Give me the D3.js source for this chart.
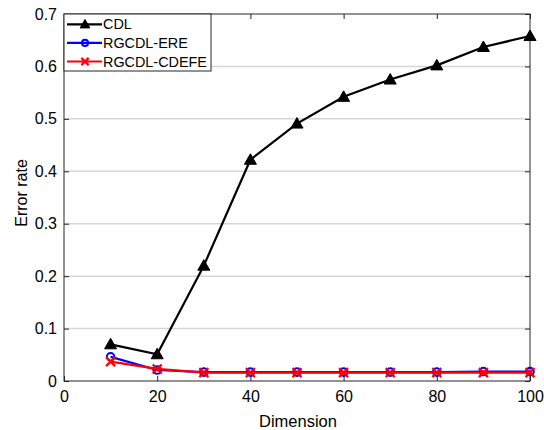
<!DOCTYPE html>
<html>
<head>
<meta charset="utf-8">
<script src="https://cdn.jsdelivr.net/npm/d3@7"></script>
<style>
  body { margin: 0; background: #fff; }
  svg { font-family: 'Liberation Sans', Arial, sans-serif; }
</style>
</head>
<body>
<svg id="chart" width="544" height="430"></svg>
<script>
const dims = [10, 20, 30, 40, 50, 60, 70, 80, 90, 100]
const cdl = [0.070, 0.051, 0.220, 0.422, 0.491, 0.542, 0.575, 0.602, 0.637, 0.658]
const ere = [0.046, 0.021, 0.017, 0.017, 0.017, 0.017, 0.017, 0.017, 0.018, 0.018]
const cdefe = [0.037, 0.023, 0.016, 0.016, 0.016, 0.016, 0.016, 0.016, 0.016, 0.016]
const xTicks = [0, 20, 40, 60, 80, 100]
const yTicks = [0, 0.1, 0.2, 0.3, 0.4, 0.5, 0.6, 0.7]

const series = [
  { name: 'CDL', values: cdl, color: '#000000', marker: 'triangle' },
  { name: 'RGCDL-ERE', values: ere, color: '#0000ff', marker: 'circle' },
  { name: 'RGCDL-CDEFE', values: cdefe, color: '#ff0000', marker: 'cross' }
]

const MARGINS = { left: 64, right: 14, top: 14, bottom: 49 }
const WIDTH = 544
const HEIGHT = 430
const axisColor = '#262626'

const svg = d3.select('#chart')
const x = d3.scaleLinear().domain([0, 100]).range([MARGINS.left, WIDTH - MARGINS.right])
const y = d3.scaleLinear().domain([0, 0.7]).range([HEIGHT - MARGINS.bottom, MARGINS.top])

// horizontal grid
svg.append('g')
  .selectAll('line')
  .data(yTicks.slice(1, -1))
  .join('line')
  .attr('x1', x(0)).attr('x2', x(100))
  .attr('y1', d => y(d)).attr('y2', d => y(d))
  .attr('stroke', '#d6d6d6')
  .attr('stroke-width', 1.5)

const fmtY = d => d === 0 ? '0' : d3.format('.1f')(d)

const styleAxis = g => {
  g.select('.domain').remove()
  g.selectAll('line').attr('stroke', axisColor)
  g.selectAll('text').attr('fill', '#000').style('font-size', '16px')
}

svg.append('g')
  .attr('transform', `translate(0, ${y(0)})`)
  .call(d3.axisBottom(x).tickValues(xTicks).tickSize(-5).tickPadding(10))
  .call(styleAxis)

svg.append('g')
  .attr('transform', `translate(${x(0)}, 0)`)
  .call(d3.axisLeft(y).tickValues(yTicks).tickFormat(fmtY).tickSize(-5).tickPadding(7))
  .call(styleAxis)

svg.append('g')
  .attr('transform', `translate(0, ${y(0.7)})`)
  .call(d3.axisTop(x).tickValues(xTicks).tickSize(-5).tickFormat(''))
  .call(styleAxis)

svg.append('g')
  .attr('transform', `translate(${x(100)}, 0)`)
  .call(d3.axisRight(y).tickValues(yTicks).tickSize(-5).tickFormat(''))
  .call(styleAxis)

// box
svg.append('rect')
  .attr('x', x(0)).attr('y', y(0.7))
  .attr('width', x(100) - x(0)).attr('height', y(0) - y(0.7))
  .attr('fill', 'none')
  .attr('stroke', axisColor)
  .attr('stroke-width', 1)

const lineGen = d3.line()
  .x((d, i) => x(dims[i]))
  .y(d => y(d))

const drawMarker = (g, type, color, cx, cy, k = 1) => {
  if (type === 'triangle') {
    const s = 6 * k
    g.append('path')
      .attr('d', `M${cx},${cy - s} L${cx + s},${cy + s * 0.75} L${cx - s},${cy + s * 0.75} Z`)
      .attr('fill', color).attr('stroke', color)
  } else if (type === 'circle') {
    g.append('circle')
      .attr('cx', cx).attr('cy', cy).attr('r', 3.8 * k)
      .attr('fill', 'none').attr('stroke', color).attr('stroke-width', 2)
  } else {
    const s = 4.5 * k
    g.append('path')
      .attr('d', `M${cx - s},${cy - s} L${cx + s},${cy + s} M${cx - s},${cy + s} L${cx + s},${cy - s}`)
      .attr('stroke', color).attr('stroke-width', 2.2)
  }
}

series.forEach(s => {
  const g = svg.append('g')
  g.append('path')
    .attr('d', lineGen(s.values))
    .attr('fill', 'none')
    .attr('stroke', s.color)
    .attr('stroke-width', 2.2)
  s.values.forEach((v, i) => drawMarker(g, s.marker, s.color, x(dims[i]), y(v)))
})

// legend
const legend = svg.append('g')
legend.append('rect')
  .attr('x', x(0)).attr('y', y(0.7))
  .attr('width', 147).attr('height', 57)
  .attr('fill', '#fff')
  .attr('stroke', axisColor)
  .attr('stroke-width', 1)

series.forEach((s, i) => {
  const ly = y(0.7) + 10.3 + i * 18.6
  legend.append('line')
    .attr('x1', x(0) + 3).attr('x2', x(0) + 38)
    .attr('y1', ly).attr('y2', ly)
    .attr('stroke', s.color).attr('stroke-width', 2.2)
  drawMarker(legend, s.marker, s.color, x(0) + 21, ly, 0.8)
  legend.append('text')
    .attr('x', x(0) + 39).attr('y', ly)
    .attr('dy', '0.36em')
    .style('font-size', '14.4px')
    .text(s.name)
})

svg.append('text')
  .attr('text-anchor', 'middle')
  .attr('x', 298)
  .attr('y', 427)
  .style('font-size', '16.5px')
  .text('Dimension')

svg.append('text')
  .attr('text-anchor', 'middle')
  .attr('transform', `translate(27, 193) rotate(-90)`)
  .style('font-size', '16px')
  .text('Error rate')
</script>
</body>
</html>
